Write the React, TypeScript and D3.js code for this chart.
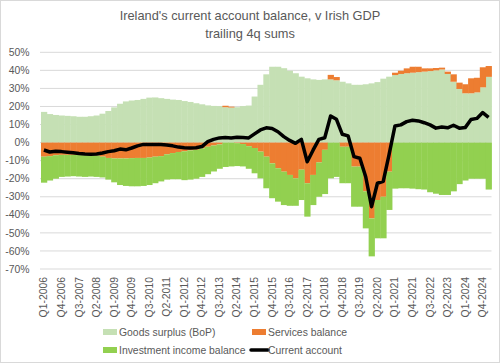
import React, { useEffect, useRef } from 'react';
import * as d3 from 'd3';

// trailing 4q sums, % of Irish GDP, Q1-2006 .. Q1-2025
const goods = [17, 15.8, 15.3, 15, 14.8, 14.6, 14.3, 14.3, 14.6, 15,
  16, 17.5, 19.5, 21.5, 22.8, 23.3, 23.6, 24.2, 24.9, 25,
  24.6, 24.2, 23.8, 23.6, 23, 22.5, 21.8, 21.2, 20.6, 20.3,
  20.2, 19.6, 19.4, 19.6, 20.2, 20.5, 25.5, 32, 37.8, 42,
  42, 41.2, 39.8, 38.4, 36.5, 35.6, 35, 34.7, 35, 35,
  34.5, 33.7, 32.8, 32, 32, 32.3, 32.8, 33.5, 35.4, 36.5,
  37.4, 38, 38.4, 38.7, 39, 39.3, 39.6, 40, 40.5, 38,
  33.7, 29.7, 27.3, 27.3, 27.8, 30.6, 36.4];

const services = [-7.8, -7.5, -7, -6.8, -6.8, -6.8, -6.9, -7, -7, -7.2,
  -7.8, -8.5, -8.8, -8.8, -8.8, -8.6, -8.5, -8.5, -8.3, -7.8,
  -7.5, -6.5, -5.8, -5.2, -4.8, -4.3, -4, -3.2, -2.3, -1.6,
  -1, 0.8, 0.5, -0.3, -0.8, -2, -3, -5, -7.8, -11.5,
  -14.2, -16.1, -17.9, -19.8, -15, -22.5, -17.9, -11, -4, 2.5,
  1.8, -2.3, -2.3, -13.3, -13.3, -27, -42, -31.8, -30, -16.1,
  1.3, 1.8, 2.7, 3.3, 3, 1.8, 1.5, 1.3, 1, 1.3,
  4.1, 3.5, 5, 8.3, 8.1, 11.1, 6];

const income = [-14.4, -13.5, -13, -12.2, -12, -11.8, -11.9, -12, -11.8, -11.8,
  -11.5, -12, -13.2, -14.7, -15.2, -15.6, -15.7, -15.5, -15.2, -14.7,
  -14, -14, -14.5, -15.1, -16, -16.2, -16, -15.8, -15.2, -14.4,
  -13.5, -13.5, -13.2, -12.7, -12.4, -12.5, -14, -14.8, -17.5, -19.3,
  -18.5, -18.5, -17.1, -15.2, -16.8, -18.5, -16.7, -19, -24.5, -19.8,
  -19, -20.2, -20.2, -22.2, -22.2, -20.5, -21, -21.2, -23, -21.2,
  -25.5, -25.3, -25.3, -25.5, -25.8, -26, -27.5, -28.3, -29, -29,
  -27, -23, -21, -20, -20, -20, -26];

const currentAccount = [-4.1, -5.2, -4.8, -5, -5.3, -5.6, -6, -6.3, -6.5, -6.3,
  -5.8, -5, -4.5, -3.6, -4, -3, -1.8, -1, -1, -1,
  -1.1, -1.3, -1.8, -2.5, -2.8, -3, -2.9, -2.2, 0.5, 1.8,
  2.6, 2.8, 2.6, 3, 2.8, 2.6, 4.8, 7, 8.2, 7.8,
  6, 3.3, 1.2, -0.4, 1.8, -10.6, -4.2, 1.8, 2.7, 14.7,
  12.9, 4.6, 3.7, -7.8, -8.7, -18.9, -35.5, -22.5, -21.5, -6.5,
  9.2, 9.8, 11.6, 12.4, 12, 11, 9.8, 8, 8.6, 8.2,
  9.6, 8, 8.3, 12.8, 13.4, 16.6, 14];

const quarters: string[] = [];
for (let i = 0; i < goods.length; i++) {
  quarters.push(`Q${(i % 4) + 1}-${2006 + Math.floor(i / 4)}`);
}

const yTicks = [50, 40, 30, 20, 10, 0, -10, -20, -30, -40, -50, -60, -70];

const seriesKeys = ['goods', 'services', 'income'];
const colors: Record<string, string> = {
  goods: '#c5e0b4',
  services: '#ed7d31',
  income: '#92d050',
};

const FONT = '"Liberation Sans", Arial, sans-serif';
const TEXT = '#595959';

const App = () => {
  const ref = useRef<SVGSVGElement | null>(null);

  useEffect(() => {
    const svg = d3.select(ref.current);
    svg.selectAll('*').remove();

    const W = 500, H = 363;
    const left = 41, right = 491.5;

    svg.append('rect')
      .attr('x', 0.5).attr('y', 0.5)
      .attr('width', W - 1).attr('height', H - 1)
      .attr('fill', '#fff')
      .attr('stroke', '#d9d9d9');

    const x = d3.scaleBand<string>()
      .domain(quarters)
      .range([left, right])
      .padding(0);

    const y = d3.scaleLinear()
      .domain([-70, 50])
      .range([269, 52.3]);

    // gridlines + y labels
    svg.append('g')
      .selectAll('line')
      .data(yTicks)
      .join('line')
      .attr('x1', left - 1)
      .attr('x2', right)
      .attr('y1', d => y(d))
      .attr('y2', d => y(d))
      .attr('stroke', '#d9d9d9')
      .attr('stroke-width', 1);

    svg.append('g')
      .selectAll('text')
      .data(yTicks)
      .join('text')
      .attr('x', 29.5)
      .attr('y', d => y(d))
      .attr('dy', '0.35em')
      .attr('text-anchor', 'end')
      .style('font-family', FONT)
      .style('font-size', '10.4px')
      .attr('fill', TEXT)
      .text(d => `${d}%`);

    // stacked bars, positives up / negatives down
    const rows = quarters.map((q, i) => ({
      q,
      goods: goods[i],
      services: services[i],
      income: income[i],
    }));

    const stack = d3.stack<any>()
      .keys(seriesKeys)
      .offset(d3.stackOffsetDiverging);

    const layers = stack(rows);

    svg.append('g')
      .selectAll('g')
      .data(layers)
      .join('g')
      .attr('fill', d => colors[d.key])
      .selectAll('rect')
      .data(d => d)
      .join('rect')
      .attr('x', d => x(d.data.q)!)
      .attr('width', x.bandwidth() + 0.4)
      .attr('y', d => y(Math.max(d[0], d[1])))
      .attr('height', d => Math.abs(y(d[0]) - y(d[1])));

    // current account line
    const line = d3.line<number>()
      .x((_, i) => x(quarters[i])! + x.bandwidth() / 2)
      .y(d => y(d));

    svg.append('path')
      .datum(currentAccount)
      .attr('fill', 'none')
      .attr('stroke', '#000')
      .attr('stroke-width', 3.5)
      .attr('stroke-linejoin', 'round')
      .attr('d', line);

    // x labels, every third quarter
    svg.append('g')
      .selectAll('text')
      .data(quarters.filter((_, i) => i % 3 === 0))
      .join('text')
      .attr('transform', d => `translate(${x(d)! + x.bandwidth() / 2 + 3.5},277) rotate(-90)`)
      .attr('text-anchor', 'end')
      .style('font-family', FONT)
      .style('font-size', '10.4px')
      .attr('fill', TEXT)
      .text(d => d);

    // title
    const title = svg.append('text')
      .attr('x', 250)
      .attr('text-anchor', 'middle')
      .style('font-family', FONT)
      .style('font-size', '12.8px')
      .attr('fill', TEXT);
    title.append('tspan').attr('x', 250).attr('y', 20).text("Ireland's current account balance, v Irish GDP");
    title.append('tspan').attr('x', 250).attr('y', 38).text('trailing 4q sums');

    // legend
    const legend = [
      { label: 'Goods surplus (BoP)', key: 'goods', x: 103, y: 332 },
      { label: 'Services balance', key: 'services', x: 252, y: 332 },
      { label: 'Investment income balance', key: 'income', x: 103, y: 350 },
      { label: 'Current account', key: 'ca', x: 251, y: 350 },
    ];
    const lg = svg.append('g')
      .selectAll('g')
      .data(legend)
      .join('g')
      .attr('transform', d => `translate(${d.x},${d.y})`);

    lg.filter(d => d.key !== 'ca')
      .append('rect')
      .attr('x', 0).attr('y', -3)
      .attr('width', 14).attr('height', 6)
      .attr('fill', d => colors[d.key]);

    lg.filter(d => d.key === 'ca')
      .append('line')
      .attr('x1', 0).attr('x2', 17)
      .attr('y1', 0).attr('y2', 0)
      .attr('stroke', '#000')
      .attr('stroke-width', 3.5)
      .attr('stroke-linecap', 'round');

    lg.append('text')
      .attr('x', d => (d.key === 'ca' ? 17 : 16))
      .attr('y', 0)
      .attr('dy', '0.35em')
      .style('font-family', FONT)
      .style('font-size', '10.4px')
      .attr('fill', TEXT)
      .text(d => d.label);
  }, []);

  return (
    <svg ref={ref} width={500} height={363} style={{ display: 'block', position: 'absolute', left: 0, top: 0 }} />
  );
};

export default App;
